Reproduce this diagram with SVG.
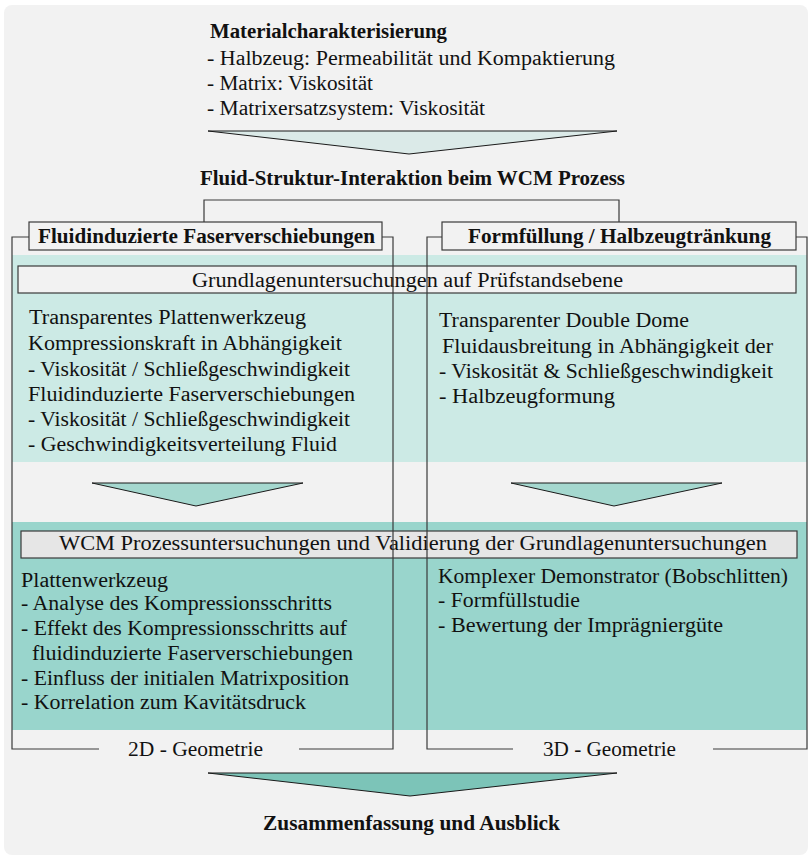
<svg xmlns="http://www.w3.org/2000/svg" width="810" height="857" viewBox="0 0 810 857">
<style>
text{font-family:"Liberation Serif","Times New Roman",serif;font-size:20px;fill:#111}
.b{font-weight:bold}
.ln{fill:none;stroke:#3a3a3a;stroke-width:1.2}
.box{stroke:#3a3a3a;stroke-width:1.2}
.arr{stroke:#1a1a1a;stroke-width:1}
</style>
<rect x="4" y="5" width="804" height="850" rx="8" fill="#f2f2f2"/>
<g id="bands">
<rect x="12" y="255" width="795" height="207" fill="#cceae5"/>
<rect x="12" y="522" width="795" height="208" fill="#99d5cc"/>
</g>
<g id="material">
<text class="b" x="210" y="38" textLength="237" lengthAdjust="spacingAndGlyphs">Materialcharakterisierung</text>
<text x="207" y="65" textLength="408" lengthAdjust="spacingAndGlyphs">- Halbzeug: Permeabilität und Kompaktierung</text>
<text x="207" y="90" textLength="166" lengthAdjust="spacingAndGlyphs">- Matrix: Viskosität</text>
<text x="207" y="115" textLength="278" lengthAdjust="spacingAndGlyphs">- Matrixersatzsystem: Viskosität</text>
</g>
<g id="arrow-top"><polygon class="arr" points="208,131 617,131 409,154" fill="#dbeae8"/></g>
<g id="fsi"><text class="b" x="200" y="185" textLength="425" lengthAdjust="spacingAndGlyphs">Fluid-Struktur-Interaktion beim WCM Prozess</text></g>
<g id="header-left">
<rect class="box" x="29" y="222" width="353" height="28" fill="#f2f2f2"/>
<text class="b" x="38" y="243" textLength="337" lengthAdjust="spacingAndGlyphs">Fluidinduzierte Faserverschiebungen</text>
</g>
<g id="header-right">
<rect class="box" x="442" y="222" width="354" height="28" fill="#f2f2f2"/>
<text class="b" x="468" y="243" textLength="303" lengthAdjust="spacingAndGlyphs">Formfüllung / Halbzeugtränkung</text>
</g>
<g id="grundlagen">
<rect class="box" x="18" y="266" width="778" height="27" fill="#f2f2f2"/>
<text x="192" y="287" textLength="431" lengthAdjust="spacingAndGlyphs">Grundlagenuntersuchungen auf Prüfstandsebene</text>
</g>
<g id="grund-left">
<text x="29" y="324" textLength="277" lengthAdjust="spacingAndGlyphs">Transparentes Plattenwerkzeug</text>
<text x="28" y="350" textLength="314" lengthAdjust="spacingAndGlyphs">Kompressionskraft in Abhängigkeit</text>
<text x="28" y="376" textLength="322" lengthAdjust="spacingAndGlyphs">- Viskosität / Schließgeschwindigkeit</text>
<text x="28" y="401" textLength="327" lengthAdjust="spacingAndGlyphs">Fluidinduzierte Faserverschiebungen</text>
<text x="28" y="426" textLength="322" lengthAdjust="spacingAndGlyphs">- Viskosität / Schließgeschwindigkeit</text>
<text x="28" y="451" textLength="309" lengthAdjust="spacingAndGlyphs">- Geschwindigkeitsverteilung Fluid</text>
</g>
<g id="grund-right">
<text x="439" y="327" textLength="250" lengthAdjust="spacingAndGlyphs">Transparenter Double Dome</text>
<text x="442" y="353" textLength="331" lengthAdjust="spacingAndGlyphs">Fluidausbreitung in Abhängigkeit der</text>
<text x="439" y="378" textLength="334" lengthAdjust="spacingAndGlyphs">- Viskosität &amp; Schließgeschwindigkeit</text>
<text x="439" y="403" textLength="176" lengthAdjust="spacingAndGlyphs">- Halbzeugformung</text>
</g>
<g id="arrow-mid-left"><polygon class="arr" points="92,483 303,483 196,506" fill="#a5d8cf"/></g>
<g id="arrow-mid-right"><polygon class="arr" points="511,483 722,483 614,506" fill="#a5d8cf"/></g>
<g id="wcm">
<rect class="box" x="21" y="531" width="776" height="27" fill="#e6e6e6"/>
<text x="59" y="550" textLength="708" lengthAdjust="spacingAndGlyphs">WCM Prozessuntersuchungen und Validierung der Grundlagenuntersuchungen</text>
</g>
<g id="wcm-left">
<text x="21" y="587" textLength="147" lengthAdjust="spacingAndGlyphs">Plattenwerkzeug</text>
<text x="21" y="610" textLength="311" lengthAdjust="spacingAndGlyphs">- Analyse des Kompressionsschritts</text>
<text x="21" y="635" textLength="326" lengthAdjust="spacingAndGlyphs">- Effekt des Kompressionsschritts auf</text>
<text x="32" y="660" textLength="321" lengthAdjust="spacingAndGlyphs">fluidinduzierte Faserverschiebungen</text>
<text x="21" y="685" textLength="328" lengthAdjust="spacingAndGlyphs">- Einfluss der initialen Matrixposition</text>
<text x="21" y="709" textLength="285" lengthAdjust="spacingAndGlyphs">- Korrelation zum Kavitätsdruck</text>
</g>
<g id="wcm-right">
<text x="438" y="583" textLength="350" lengthAdjust="spacingAndGlyphs">Komplexer Demonstrator (Bobschlitten)</text>
<text x="438" y="607" textLength="142" lengthAdjust="spacingAndGlyphs">- Formfüllstudie</text>
<text x="438" y="632" textLength="285" lengthAdjust="spacingAndGlyphs">- Bewertung der Imprägniergüte</text>
</g>
<g id="geo-labels">
<text x="128" y="756" textLength="135" lengthAdjust="spacingAndGlyphs">2D - Geometrie</text>
<text x="543" y="756" textLength="133" lengthAdjust="spacingAndGlyphs">3D - Geometrie</text>
</g>
<g id="connectors">
<polyline class="ln" points="204,222 204,200 619,200 619,222"/>
<polyline class="ln" points="29,237 12,237 12,749 99,749"/>
<polyline class="ln" points="299,749 393,749 393,237 382,237"/>
<polyline class="ln" points="442,237 427,237 427,749 513,749"/>
<polyline class="ln" points="713,749 807,749 807,237 796,237"/>
</g>
<g id="arrow-bottom"><polygon class="arr" points="208,773 617,773 410,796" fill="#7cc4b8"/></g>
<g id="summary"><text class="b" x="263" y="830" textLength="297" lengthAdjust="spacingAndGlyphs">Zusammenfassung und Ausblick</text></g>
</svg>
